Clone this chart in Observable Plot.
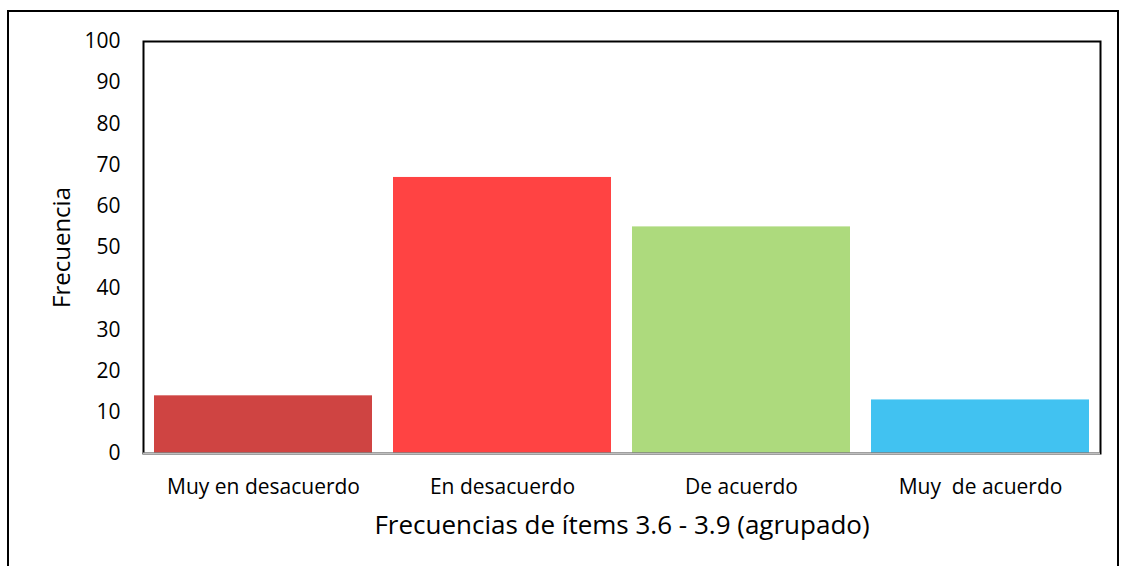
<!DOCTYPE html>
<html>
<head>
<meta charset="utf-8">
<script src="https://cdn.jsdelivr.net/npm/d3@7"></script>
<script src="https://cdn.jsdelivr.net/npm/@observablehq/plot@0.6"></script>
<style>
  html, body { margin: 0; padding: 0; background: #fff; overflow: hidden; }
  #wrap { position: relative; width: 1124px; height: 566px; overflow: hidden; }
  #border { position: absolute; left: 7px; top: 10px; width: 1112px; height: 600px; border: 2px solid #000; box-sizing: border-box; }
  #chart { position: absolute; left: 0; top: 0; }
</style>
</head>
<body>
<div id="wrap"><div id="border"></div><div id="chart"></div></div>
<script>
const categories = ["Muy en desacuerdo", "En desacuerdo", "De acuerdo", "Muy  de acuerdo"];
const values = [14, 67, 55, 13];
const colors = ["#CF4442", "#FF4343", "#ADDA7D", "#41C2F1"];
const yTicks = [0, 10, 20, 30, 40, 50, 60, 70, 80, 90, 100];
const xTitle = "Frecuencias de ítems 3.6 - 3.9 (agrupado)";
const yTitle = "Frecuencia";

const data = categories.map((c, i) => ({cat: c, value: values[i], color: colors[i]}));
const font = "'Open Sans', sans-serif";

const chart = Plot.plot({
  width: 1124,
  height: 566,
  marginLeft: 143,
  marginRight: 24,
  marginTop: 41,
  marginBottom: 113,
  style: {fontFamily: font, background: "transparent", color: "#000"},
  x: {domain: categories, paddingInner: 0.088, paddingOuter: 0.044, label: null},
  y: {domain: [0, 100], ticks: yTicks, label: null},
  marks: [
    Plot.barY(data, {x: "cat", y: "value", fill: "color"}),
    Plot.frame({stroke: "#000", strokeWidth: 2}),
    Plot.ruleY([0], {stroke: "#BFBFBF", strokeWidth: 2}),
    Plot.axisY({ticks: yTicks, tickSize: 0, tickPadding: 23, fontSize: 21, label: null, tickFormat: d => String(d)}),
    Plot.axisX({tickSize: 0, tickPadding: 26, fontSize: 21, label: null}),
    Plot.text([yTitle], {frameAnchor: "left", textAnchor: "middle", dx: -81, rotate: -90, fontSize: 24, fill: "#000"}),
    Plot.text([xTitle], {frameAnchor: "bottom", textAnchor: "middle", dy: 80, fontSize: 26, fill: "#000"})
  ]
});
document.getElementById("chart").appendChild(chart);
</script>
</body>
</html>
